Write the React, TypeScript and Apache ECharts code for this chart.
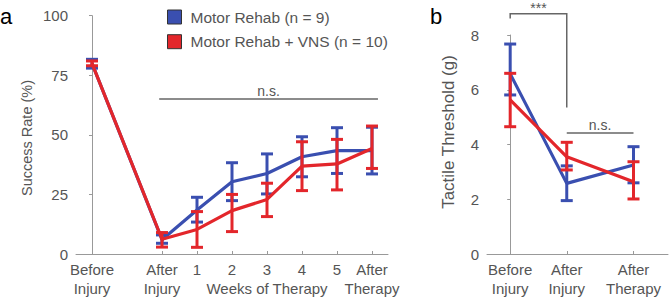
import React, { useEffect, useRef } from "react";
import * as echarts from "echarts";

// ---------- Data ----------
const seriesNames = ["Motor Rehab (n = 9)", "Motor Rehab + VNS (n = 10)"];

// Panel a: success rate (%)
const leftLabels = ["Before\nInjury", "After\nInjury", "1", "2", "3\nWeeks of Therapy", "4", "5", "After\nTherapy"];
const leftPositions = [0, 2, 3, 4, 5, 6, 7, 8];
const blueLeftMean = [80.0, 6.0, 18.5, 30.3, 33.8, 40.8, 43.4, 43.4];
const blueLeftLow = [78.0, 4.5, 13.4, 22.4, 25.2, 32.4, 33.8, 33.6];
const blueLeftHigh = [81.7, 8.0, 23.8, 38.3, 42.0, 49.2, 53.0, 53.2];
const redLeftMean = [80.0, 6.2, 10.3, 18.2, 22.9, 36.9, 37.8, 44.3];
const redLeftLow = [79.0, 2.9, 2.8, 9.4, 15.7, 26.6, 26.9, 35.9];
const redLeftHigh = [81.0, 9.0, 17.8, 25.0, 29.7, 47.1, 48.1, 53.7];

// Panel b: tactile threshold (g)
const rightLabels = ["Before\nInjury", "After\nInjury", "After\nTherapy"];
const rightPositions = [0, 1, 2.18];
const blueRightMean = [6.58, 2.58, 3.25];
const blueRightLow = [5.81, 1.95, 2.60];
const blueRightHigh = [7.67, 3.22, 3.92];
const redRightMean = [5.63, 3.55, 2.64];
const redRightLow = [4.65, 3.07, 2.01];
const redRightHigh = [6.60, 4.08, 3.37];

// Significance brackets: [x1, x2, y, leftEndY, rightEndY]
const leftBrackets = [[1.92, 8.17, 65, 65, 65]];
const leftBracketLabels = ["n.s."];
const rightBrackets = [
  [0, 1, 8.78, 8.6, 5.35],
  [1, 2.18, 4.42, 4.42, 4.42],
];
const rightBracketLabels = ["***", "n.s."];

// ---------- Styles ----------
const BLUE = "#3A4FB0";
const RED = "#E3262B";
const TEXT = "#555555";
const AXIS = "#999999";
const FONT = '"Liberation Sans", Arial, Helvetica, sans-serif';

function errorBars(name: string, xi: number, positions: number[], low: number[], high: number[], color: string, z: number) {
  return {
    type: "custom",
    name,
    xAxisIndex: xi,
    yAxisIndex: xi,
    silent: true,
    z,
    encode: { x: 0, y: [1, 2] },
    data: positions.map((p, i) => [p, low[i], high[i]]),
    renderItem: (params: any, api: any) => {
      const x = api.value(0);
      const pLo = api.coord([x, api.value(1)]);
      const pHi = api.coord([x, api.value(2)]);
      const hw = 6;
      const style = { stroke: color, lineWidth: 3, fill: null };
      return {
        type: "group",
        children: [
          { type: "line", shape: { x1: pLo[0], y1: pLo[1], x2: pHi[0], y2: pHi[1] }, style },
          { type: "line", shape: { x1: pLo[0] - hw, y1: pLo[1], x2: pLo[0] + hw, y2: pLo[1] }, style },
          { type: "line", shape: { x1: pHi[0] - hw, y1: pHi[1], x2: pHi[0] + hw, y2: pHi[1] }, style },
        ],
      };
    },
  };
}

function lineSeries(name: string, xi: number, positions: number[], values: number[], color: string, z: number) {
  return {
    type: "line",
    name,
    xAxisIndex: xi,
    yAxisIndex: xi,
    z,
    color,
    symbol: "none",
    showSymbol: false,
    silent: true,
    lineStyle: { color, width: 3.2 },
    itemStyle: { color },
    data: positions.map((p, i) => [p, values[i]]),
  };
}

function brackets(xi: number, data: number[][], labels: string[]) {
  return {
    type: "custom",
    name: "brackets" + xi,
    xAxisIndex: xi,
    yAxisIndex: xi,
    silent: true,
    clip: false,
    z: 1,
    data,
    renderItem: (params: any, api: any) => {
      const x1 = api.value(0);
      const x2 = api.value(1);
      const y = api.value(2);
      const p1 = api.coord([x1, y]);
      const p2 = api.coord([x2, y]);
      const pl = api.coord([x1, api.value(3)]);
      const pr = api.coord([x2, api.value(4)]);
      const label = labels[params.dataIndex];
      const isStar = label.indexOf("*") >= 0;
      return {
        type: "group",
        children: [
          {
            type: "polyline",
            shape: { points: [pl, p1, p2, pr] },
            style: { stroke: "#666666", lineWidth: 1.5, fill: null },
          },
          {
            type: "text",
            style: {
              text: label,
              x: (p1[0] + p2[0]) / 2,
              y: isStar ? p1[1] - 13 : p1[1] - 1,
              align: "center",
              verticalAlign: isStar ? "top" : "bottom",
              fill: TEXT,
              font: `14px ${FONT}`,
            },
          },
        ],
      };
    },
  };
}

function xAxis(gi: number, min: number, max: number, positions: number[], labels: string[]) {
  return {
    type: "value",
    gridIndex: gi,
    min,
    max,
    splitLine: { show: false },
    axisLine: { show: true, lineStyle: { color: AXIS, width: 1 } },
    axisTick: { show: true, inside: true, length: 3, customValues: positions, lineStyle: { color: AXIS } },
    axisLabel: {
      show: true,
      customValues: positions,
      formatter: (v: number) => {
        const i = positions.findIndex((p) => Math.abs(p - v) < 1e-6);
        return i >= 0 ? labels[i] : "";
      },
      color: TEXT,
      fontSize: 15,
      fontFamily: FONT,
      lineHeight: 19,
      margin: 6,
    },
  };
}

function yAxis(gi: number, max: number, interval: number) {
  return {
    type: "value",
    gridIndex: gi,
    min: 0,
    max,
    interval,
    splitLine: { show: false },
    axisLine: { show: true, lineStyle: { color: AXIS, width: 1 } },
    axisTick: { show: true, inside: false, length: 3, lineStyle: { color: AXIS } },
    axisLabel: { color: TEXT, fontSize: 15, fontFamily: FONT, margin: 8 },
  };
}

export default function App() {
  const ref = useRef<HTMLDivElement>(null);
  useEffect(() => {
    if (!ref.current) return;
    const chart = echarts.init(ref.current, undefined, { renderer: "svg" });
    const option: any = {
      animation: false,
      backgroundColor: "#ffffff",
      textStyle: { fontFamily: FONT },
      grid: [
        { left: 76, top: 15.7, width: 312, height: 238.3, outerBoundsMode: "none", containLabel: false },
        { left: 487, top: 35, width: 181, height: 219, outerBoundsMode: "none", containLabel: false },
      ],
      xAxis: [
        xAxis(0, -0.457, 8.457, leftPositions, leftLabels),
        xAxis(1, -0.41, 2.79, rightPositions, rightLabels),
      ],
      yAxis: [yAxis(0, 100, 25), yAxis(1, 8, 2)],
      legend: {
        show: true,
        data: seriesNames,
        orient: "vertical",
        left: 167,
        top: 9,
        padding: 0,
        icon: "rect",
        itemWidth: 14,
        itemHeight: 14,
        itemGap: 8.7,
        itemStyle: { borderColor: "#333333", borderWidth: 1 },
        textStyle: { color: TEXT, fontSize: 15.5, fontFamily: FONT, padding: [0, 0, 0, 4], lineHeight: 14 },
        selectedMode: false,
      },
      graphic: [
        { type: "text", left: 0, top: 5, style: { text: "a", fill: "#000", font: `22px ${FONT}` } },
        { type: "text", left: 430, top: 5, style: { text: "b", fill: "#000", font: `22px ${FONT}` } },
        {
          type: "text",
          x: 27,
          y: 138,
          rotation: Math.PI / 2,
          style: { text: "Success Rate (%)", align: "center", verticalAlign: "middle", fill: TEXT, font: `14.5px ${FONT}` },
        },
        {
          type: "text",
          x: 448,
          y: 132,
          rotation: Math.PI / 2,
          style: { text: "Tactile Threshold (g)", align: "center", verticalAlign: "middle", fill: TEXT, font: `17px ${FONT}` },
        },
      ],
      series: [
        brackets(0, leftBrackets, leftBracketLabels),
        brackets(1, rightBrackets, rightBracketLabels),
        errorBars("blueErrL", 0, leftPositions, blueLeftLow, blueLeftHigh, BLUE, 2),
        lineSeries(seriesNames[0], 0, leftPositions, blueLeftMean, BLUE, 3),
        errorBars("redErrL", 0, leftPositions, redLeftLow, redLeftHigh, RED, 4),
        lineSeries(seriesNames[1], 0, leftPositions, redLeftMean, RED, 5),
        errorBars("blueErrR", 1, rightPositions, blueRightLow, blueRightHigh, BLUE, 2),
        lineSeries(seriesNames[0], 1, rightPositions, blueRightMean, BLUE, 3),
        errorBars("redErrR", 1, rightPositions, redRightLow, redRightHigh, RED, 4),
        lineSeries(seriesNames[1], 1, rightPositions, redRightMean, RED, 5),
      ],
    };
    chart.setOption(option);
    return () => chart.dispose();
  }, []);
  return <div ref={ref} style={{ position: "absolute", left: 0, top: 0, width: 670, height: 298 }} />;
}
